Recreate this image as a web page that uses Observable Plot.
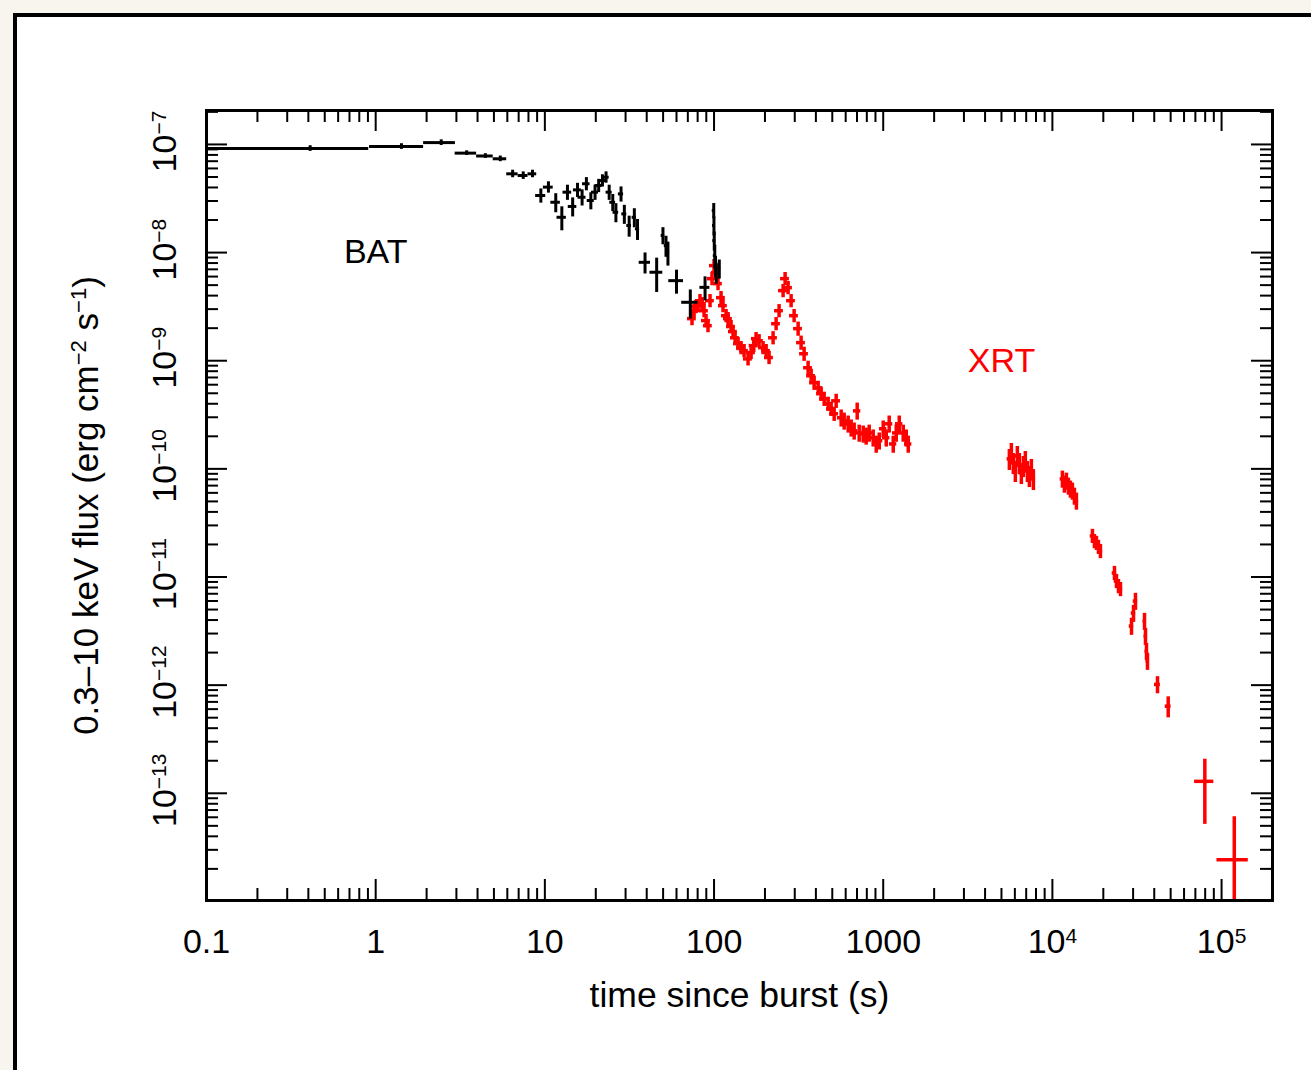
<!DOCTYPE html>
<html>
<head>
<meta charset="utf-8">
<script src="https://cdn.jsdelivr.net/npm/d3@7"></script>
<script src="https://cdn.jsdelivr.net/npm/@observablehq/plot@0.6"></script>
<style>
  html, body { margin: 0; padding: 0; background: #f8f5ee; overflow: hidden; width: 1311px; height: 1070px; }
  #panel { position: absolute; left: 13px; top: 13px; width: 1400px; height: 1200px; border: 4px solid #000; background: #fff; box-sizing: border-box; }
  #chart { position: absolute; left: 0; top: 0; }
</style>
</head>
<body>
<div id="panel"></div>
<div id="chart"></div>
<script>
// ---------- axis text ----------
const xTickValues = [0.1, 1, 10, 100, 1000, 1e4, 1e5];
const xTickLabels = ["0.1", "1", "10", "100", "1000", "10^4", "10^5"];
const yTickValues = [1e-7, 1e-8, 1e-9, 1e-10, 1e-11, 1e-12, 1e-13];
const yTickLabels = ["10^−7", "10^−8", "10^−9", "10^−10", "10^−11", "10^−12", "10^−13"];
const xTitle = "time since burst (s)";
const yTitle = "0.3–10 keV flux (erg cm^−2 s^−1)";

// ---------- series labels ----------
const seriesNames = ["BAT", "XRT"];
const seriesLabelTime = [1, 5000];
const seriesLabelFlux = [1e-8, 1e-9];

// ---------- BAT (s, half bin width in s, flux, relative error) ----------
const batTime = [0.41, 1.42, 2.44, 3.45, 4.45, 5.45, 6.45, 7.45, 8.45,
  9.47, 10.5, 11.6, 12.6, 13.6, 14.6, 15.6, 16.6, 17.6, 18.7, 19.8,
  20.8, 21.9, 23.0, 24.0, 25.2, 26.3, 28.2, 29.5, 31.5, 33.8, 35.3,
  39.1, 45.8, 49.9, 52.0, 53.4, 60.0, 72.4, 88.5,
  99.6, 99.9, 100.3, 101.0, 102.0, 103.0, 107.4];
const batHalfWidth = [0.5, 0.5, 0.52, 0.5, 0.5, 0.5, 0.5, 0.5, 0.5,
  0.65, 0.7, 0.75, 0.8, 0.8, 0.85, 0.85, 0.9, 0.9, 0.9, 0.95,
  1.0, 1.0, 1.0, 1.0, 1.0, 1.0, 1.0, 1.0, 1.0, 1.0, 1.0,
  3, 4, 1.2, 1.2, 1.2, 6, 8, 6,
  2.0, 2.0, 2.0, 2.0, 2.0, 2.0, 2];
const batFlux = [9.18e-8, 9.58e-8, 1.04e-7, 8.31e-8, 7.82e-8, 7.37e-8, 5.35e-8, 5.16e-8, 5.35e-8,
  3.37e-8, 4.03e-8, 2.92e-8, 2.12e-8, 3.62e-8, 2.67e-8, 3.8e-8, 3.25e-8, 4.33e-8, 3.03e-8, 3.62e-8,
  4.17e-8, 4.64e-8, 4.98e-8, 3.62e-8, 2.92e-8, 2.36e-8, 3.49e-8, 2.28e-8, 1.78e-8, 2.12e-8, 1.66e-8,
  8.13e-9, 6.58e-9, 1.44e-8, 1.16e-8, 1.0e-8, 5.5e-9, 3.47e-9, 4.77e-9,
  2.45e-8, 1.78e-8, 1.29e-8, 9.38e-9, 7.58e-9, 6.53e-9, 7.11e-9];
const batErr = [0.06, 0.06, 0.06, 0.05, 0.05, 0.06, 0.08, 0.08, 0.08,
  0.15, 0.12, 0.2, 0.25, 0.16, 0.2, 0.15, 0.17, 0.14, 0.18, 0.16,
  0.14, 0.13, 0.12, 0.16, 0.18, 0.2, 0.16, 0.2, 0.22, 0.2, 0.22,
  0.22, 0.35, 0.18, 0.22, 0.25, 0.25, 0.3, 0.25,
  0.16, 0.2, 0.2, 0.25, 0.22, 0.22, 0.2];

// ---------- XRT (s, flux, relative error, relative half bin width) ----------
const xrtTime = [
  74.1, 76.2, 78.2, 80.4, 82.6, 84.9, 87.3, 89.7, 92.1, 94.7,
  97.3, 100, 102.8, 105.6, 110.0, 113.0, 121.0, 126.1, 129.5, 138.7,
  144.5, 150.5, 158.9, 165.6, 177.2, 184.6, 194.9, 203.2, 211.5, 223.4,
  232.8, 242.4, 256.0, 263.1, 274.1, 285.5, 297.4, 314.1, 327.1, 340.8,
  359.9, 375.0, 390.6, 412.6, 429.8, 447.7, 472.7, 492.5, 513.1, 527.2,
  564.3, 587.8, 620.7, 646.6, 673.6, 701.8, 721.1, 761.6, 793.3, 826.5,
  872.7, 909.2, 947.3, 1000, 1042, 1085, 1146, 1194, 1244, 1313,
  1368, 1406,
  5567, 5720, 5878, 6040, 6207, 6378, 6555, 6735, 6921, 7115, 7311, 7513, 7722,
  11461, 11776, 12101, 12434, 12777, 13129, 13492, 13868,
  17246, 17721, 18212, 18714, 19231,
  23280, 23920, 24580, 25260,
  29350, 30160, 30980,
  35040, 35510, 35990, 36480,
  41810, 48370, 79630, 118900,
  117.8, 133.2, 171.7];
const xrtFlux = [
  2.45e-9, 2.90e-9, 3.16e-9, 3.23e-9, 3.59e-9, 3.37e-9, 2.90e-9, 2.35e-9, 2.11e-9, 3.59e-9,
  5.74e-9, 7.58e-9, 6.53e-9, 5.16e-9, 3.83e-9, 3.23e-9, 2.45e-9, 2.07e-9, 1.86e-9, 1.44e-9,
  1.32e-9, 1.24e-9, 1.04e-9, 1.19e-9, 1.60e-9, 1.53e-9, 1.32e-9, 1.24e-9, 1.07e-9, 1.63e-9,
  2.20e-9, 2.90e-9, 4.45e-9, 5.74e-9, 4.74e-9, 3.59e-9, 2.61e-9, 1.98e-9, 1.47e-9, 1.16e-9,
  8.61e-10, 7.26e-10, 6.26e-10, 5.62e-10, 4.95e-10, 4.45e-10, 4.00e-10, 3.59e-10, 3.23e-10, 4.26e-10,
  2.97e-10, 2.78e-10, 2.61e-10, 2.40e-10, 2.25e-10, 3.44e-10, 2.15e-10, 2.11e-10, 2.02e-10, 2.15e-10,
  1.94e-10, 1.70e-10, 1.82e-10, 2.35e-10, 1.94e-10, 2.61e-10, 1.70e-10, 2.15e-10, 2.61e-10, 2.15e-10,
  1.94e-10, 1.70e-10,
  1.238e-10, 1.406e-10, 1.136e-10, 9.58e-11, 1.319e-10, 1.136e-10, 9.18e-11, 1.066e-10, 1.186e-10, 9.58e-11, 8.61e-11, 1.0e-10, 8.08e-11,
  8.08e-11, 7.26e-11, 7.74e-11, 6.96e-11, 6.53e-11, 6.26e-11, 5.62e-11, 5.06e-11,
  2.40e-11, 2.15e-11, 2.07e-11, 1.90e-11, 1.74e-11,
  1.09e-11, 9.18e-12, 8.25e-12, 7.74e-12,
  3.52e-12, 4.64e-12, 5.99e-12,
  3.91e-12, 2.84e-12, 2.06e-12, 1.67e-12,
  1.015e-12, 6.39e-13, 1.29e-13, 2.43e-14,
  2.61e-9, 1.63e-9, 1.38e-9];
const xrtErr = [
  0.14, 0.14, 0.14, 0.14, 0.14, 0.14, 0.14, 0.14, 0.14, 0.14,
  0.14, 0.14, 0.14, 0.14, 0.14, 0.14, 0.14, 0.14, 0.14, 0.14,
  0.14, 0.14, 0.14, 0.14, 0.14, 0.14, 0.14, 0.14, 0.14, 0.14,
  0.14, 0.14, 0.14, 0.14, 0.14, 0.14, 0.14, 0.15, 0.15, 0.15,
  0.15, 0.15, 0.15, 0.15, 0.15, 0.15, 0.15, 0.15, 0.15, 0.15,
  0.18, 0.18, 0.18, 0.18, 0.18, 0.18, 0.18, 0.18, 0.18, 0.18,
  0.18, 0.18, 0.18, 0.18, 0.18, 0.18, 0.18, 0.18, 0.18, 0.18,
  0.18, 0.18,
  0.22, 0.22, 0.22, 0.22, 0.22, 0.22, 0.22, 0.22, 0.22, 0.22, 0.22, 0.22, 0.22,
  0.18, 0.18, 0.18, 0.18, 0.18, 0.18, 0.18, 0.18,
  0.15, 0.15, 0.15, 0.15, 0.15,
  0.15, 0.15, 0.15, 0.15,
  0.18, 0.18, 0.18,
  0.18, 0.18, 0.18, 0.18,
  0.18, 0.22, 0.6, 1.5,
  0.14, 0.14, 0.14];
const xrtHalfWidth = [
  0.06, 0.06, 0.06, 0.06, 0.06, 0.06, 0.06, 0.06, 0.06, 0.06,
  0.06, 0.06, 0.06, 0.06, 0.06, 0.06, 0.06, 0.06, 0.06, 0.06,
  0.06, 0.06, 0.06, 0.06, 0.06, 0.06, 0.06, 0.06, 0.06, 0.06,
  0.06, 0.06, 0.06, 0.06, 0.06, 0.06, 0.06, 0.06, 0.06, 0.06,
  0.06, 0.06, 0.06, 0.06, 0.06, 0.06, 0.06, 0.06, 0.06, 0.06,
  0.05, 0.05, 0.05, 0.05, 0.05, 0.05, 0.05, 0.05, 0.05, 0.05,
  0.05, 0.05, 0.05, 0.05, 0.05, 0.05, 0.05, 0.05, 0.05, 0.05,
  0.05, 0.05,
  0.03, 0.03, 0.03, 0.03, 0.03, 0.03, 0.03, 0.03, 0.03, 0.03, 0.03, 0.03, 0.03,
  0.03, 0.03, 0.03, 0.03, 0.03, 0.03, 0.03, 0.03,
  0.03, 0.03, 0.03, 0.03, 0.03,
  0.03, 0.03, 0.03, 0.03,
  0.03, 0.03, 0.03,
  0.02, 0.02, 0.02, 0.02,
  0.04, 0.04, 0.13, 0.21,
  0.06, 0.06, 0.06];

// ---------- build records ----------
const bat = batTime.map((t, i) => ({t, dt: batHalfWidth[i], f: batFlux[i], e: batErr[i]}));
const xrt = xrtTime.map((t, i) => ({t, h: xrtHalfWidth[i], f: xrtFlux[i], e: xrtErr[i]}));

const W = 1311, H = 1070;
const mL = 206, mR = 39, mT = 110, mB = 170;
const PW = W - mL - mR, PH = H - mT - mB;
const xDomain = [0.1, 2.0e5];
const yDomain = [1.02e-14, 2.06e-7];
const majorLen = 21, minorLen = 12;

const xMajor = d3.range(-1, 6).map(e => 10 ** e).filter(v => v >= xDomain[0] && v <= xDomain[1]);
const xMinor = d3.range(-1, 6).flatMap(e => d3.range(2, 10).map(k => k * 10 ** e)).filter(v => v > xDomain[0] && v < xDomain[1]);
const yMajor = d3.range(-14, -6).map(e => 10 ** e).filter(v => v >= yDomain[0] && v <= yDomain[1]);
const yMinor = d3.range(-14, -6).flatMap(e => d3.range(2, 10).map(k => k * 10 ** e)).filter(v => v > yDomain[0] && v < yDomain[1]);

const font = "'Liberation Sans', Arial, Helvetica, sans-serif";
const black = "#000000", red = "#ff0000";

const chart = Plot.plot({
  width: W, height: H,
  marginLeft: mL, marginRight: mR, marginTop: mT, marginBottom: mB,
  style: {background: "transparent", fontFamily: font, color: "black"},
  x: {type: "log", domain: xDomain, axis: null},
  y: {type: "log", domain: yDomain, axis: null},
  marks: [
    // XRT
    Plot.ruleX(xrt, {x: "t", y1: d => Math.max(d.f * (1 - d.e), 1e-18), y2: d => d.f * (1 + d.e), stroke: red, strokeWidth: 3.5, clip: true}),
    Plot.ruleY(xrt, {y: "f", x1: d => d.t * (1 - d.h), x2: d => d.t * (1 + d.h), stroke: red, strokeWidth: 3.5, clip: true}),
    // BAT
    Plot.ruleX(bat, {x: "t", y1: d => d.f * (1 - d.e), y2: d => d.f * (1 + d.e), stroke: black, strokeWidth: 3, clip: true}),
    Plot.ruleY(bat, {y: "f", x1: d => Math.max(d.t - d.dt, 1e-3), x2: d => d.t + d.dt, stroke: black, strokeWidth: 3, clip: true}),
    // ticks (inward, on all four sides)
    Plot.tickX(xMajor, {x: d => d, insetTop: PH - majorLen, stroke: black, strokeWidth: 2}),
    Plot.tickX(xMajor, {x: d => d, insetBottom: PH - majorLen, stroke: black, strokeWidth: 2}),
    Plot.tickX(xMinor, {x: d => d, insetTop: PH - minorLen, stroke: black, strokeWidth: 2}),
    Plot.tickX(xMinor, {x: d => d, insetBottom: PH - minorLen, stroke: black, strokeWidth: 2}),
    Plot.tickY(yMajor, {y: d => d, insetRight: PW - majorLen, stroke: black, strokeWidth: 2}),
    Plot.tickY(yMajor, {y: d => d, insetLeft: PW - majorLen, stroke: black, strokeWidth: 2}),
    Plot.tickY(yMinor, {y: d => d, insetRight: PW - minorLen, stroke: black, strokeWidth: 2}),
    Plot.tickY(yMinor, {y: d => d, insetLeft: PW - minorLen, stroke: black, strokeWidth: 2}),
    Plot.frame({stroke: black, strokeWidth: 3}),
    // tick labels
    Plot.text(xTickValues, {x: d => d, text: (d, i) => xTickLabels[i], frameAnchor: "bottom", dy: 52, lineAnchor: "bottom", textAnchor: "middle", fontSize: 34, fill: black}),
    Plot.text(yTickValues, {y: d => d, text: (d, i) => yTickLabels[i], frameAnchor: "left", dx: -31, dy: -3, rotate: -90, lineAnchor: "bottom", textAnchor: "middle", fontSize: 34, fill: black}),
    // axis titles
    Plot.text([xTitle], {text: d => d, frameAnchor: "bottom", dy: 106, lineAnchor: "bottom", textAnchor: "middle", fontSize: 35.5, fill: black}),
    Plot.text([yTitle], {text: d => d, frameAnchor: "left", dx: -109, rotate: -90, lineAnchor: "bottom", textAnchor: "middle", fontSize: 35, fill: black}),
    // series labels
    Plot.text([seriesNames[0]], {x: () => seriesLabelTime[0], y: () => seriesLabelFlux[0], text: d => d, fontSize: 34, fill: black}),
    Plot.text([seriesNames[1]], {x: () => seriesLabelTime[1], y: () => seriesLabelFlux[1], text: d => d, fontSize: 34, fill: red})
  ]
});

// turn "^exp" into raised tspans, keeping everything as real text
function superscript(el, size, rise) {
  const s = el.text();
  el.text(null);
  let raised = false;
  for (const p of s.split(/(\^[−\-]?\d+)/)) {
    if (!p) continue;
    if (p.startsWith("^")) {
      el.append("tspan").attr("dy", -rise).attr("font-size", size).text(p.slice(1));
      raised = true;
    } else {
      el.append("tspan").attr("dy", raised ? rise : null).text(p);
      raised = false;
    }
  }
}
d3.select(chart).selectAll("text").each(function () {
  const el = d3.select(this);
  const s = el.text();
  if (!s.includes("^")) return;
  if (s.length > 12) superscript(el, 22, 12);
  else superscript(el, 21, 10);
});

document.getElementById("chart").appendChild(chart);
</script>
</body>
</html>
